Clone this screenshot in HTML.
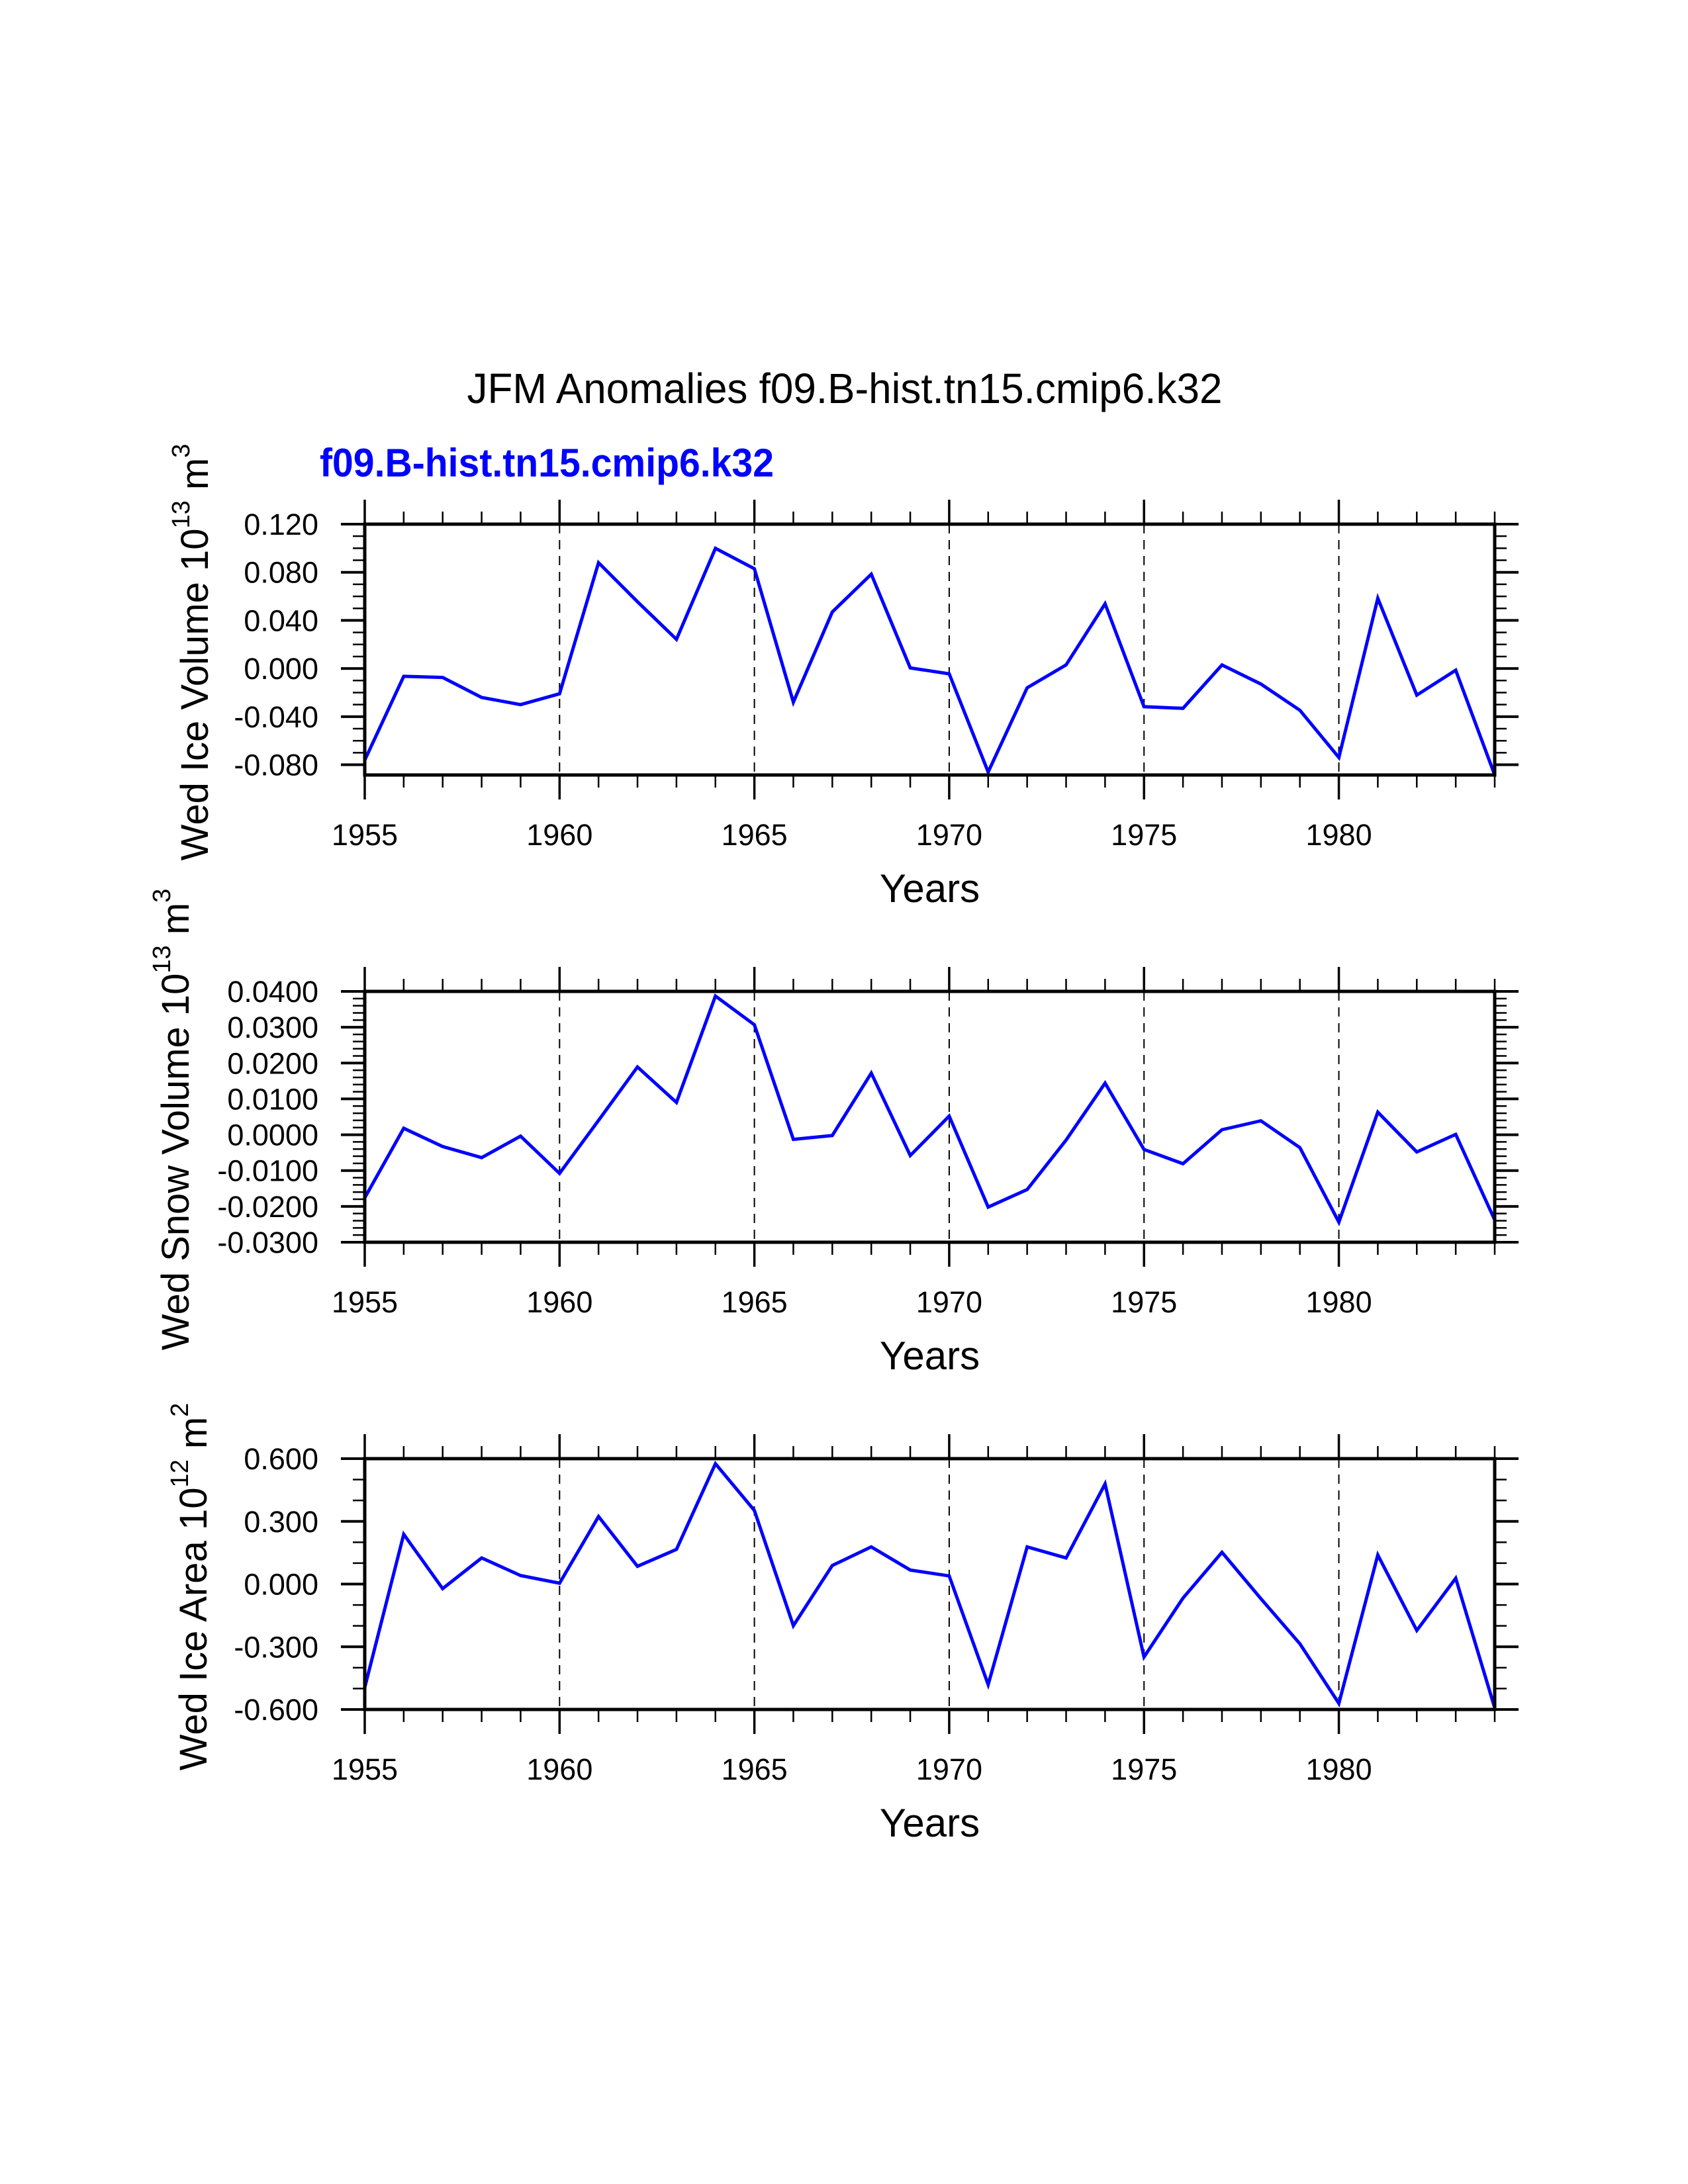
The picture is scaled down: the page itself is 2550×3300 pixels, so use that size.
<!DOCTYPE html>
<html><head><meta charset="utf-8"><style>
html,body{margin:0;padding:0;background:#fff;}
svg{display:block;font-family:"Liberation Sans",sans-serif;}
</style></head><body>
<svg id="chart" width="2550" height="3300" viewBox="0 0 2550 3300" xmlns="http://www.w3.org/2000/svg">
<rect x="0" y="0" width="2550" height="3300" fill="#fff"/>
<text x="1276" y="609" font-size="64" text-anchor="middle" textLength="1141" lengthAdjust="spacingAndGlyphs">JFM Anomalies f09.B-hist.tn15.cmip6.k32</text>
<text x="483" y="720" font-size="60" font-weight="bold" fill="#0000ff" textLength="686" lengthAdjust="spacingAndGlyphs">f09.B-hist.tn15.cmip6.k32</text>
</svg>
<script>
const years = [1955,1956,1957,1958,1959,1960,1961,1962,1963,1964,1965,1966,1967,1968,1969,1970,1971,1972,1973,1974,1975,1976,1977,1978,1979,1980,1981,1982,1983,1984];
const iceVolume = [-0.0762,-0.0065,-0.0074,-0.024,-0.030,-0.021,0.088,0.0555,0.0243,0.0999,0.083,-0.028,0.047,0.0784,0.0005,-0.0044,-0.086,-0.016,0.003,0.0538,-0.0317,-0.0331,0.003,-0.0129,-0.0347,-0.074,0.0584,-0.0221,-0.0014,-0.0885];
const snowVolume = [-0.0176,0.0018,-0.0033,-0.0064,-0.0004,-0.0108,0.004,0.0189,0.009,0.0387,0.0307,-0.0013,-0.0002,0.0172,-0.0058,0.0052,-0.0202,-0.0153,-0.0015,0.0144,-0.0041,-0.0081,0.0014,0.0039,-0.0036,-0.0244,0.0063,-0.0048,0.0001,-0.0238];
const iceArea = [-0.495,0.238,-0.022,0.125,0.041,0.004,0.323,0.085,0.166,0.576,0.352,-0.199,0.089,0.178,0.067,0.039,-0.481,0.178,0.125,0.479,-0.349,-0.067,0.152,-0.07,-0.286,-0.571,0.139,-0.222,0.028,-0.592];
const xTickLabels = ["1955","1960","1965","1970","1975","1980"];
const iceVolumeTicks = ["0.120","0.080","0.040","0.000","-0.040","-0.080"];
const snowVolumeTicks = ["0.0400","0.0300","0.0200","0.0100","0.0000","-0.0100","-0.0200","-0.0300"];
const iceAreaTicks = ["0.600","0.300","0.000","-0.300","-0.600"];

const NS = "http://www.w3.org/2000/svg";
const svg = document.getElementById('chart');
const X0 = 551, X1 = 2258, H = 379;
function mk(tag, attrs, parent){
  const e = document.createElementNS(NS, tag);
  for (const k in attrs) e.setAttribute(k, attrs[k]);
  (parent||svg).appendChild(e);
  return e;
}
function xScale(yr){ return X0 + (yr - 1955) / (1984 - 1955) * (X1 - X0); }

const panels = [
  {key:'ice-volume', top:792, ymin:-0.0885, ymax:0.12, data:iceVolume, ticks:iceVolumeTicks, minor:0.01, title:['Wed Ice Volume 10','13',' m','3'], tx:314},
  {key:'snow-volume', top:1498, ymin:-0.03, ymax:0.04, data:snowVolume, ticks:snowVolumeTicks, minor:0.002, title:['Wed Snow Volume 10','13',' m','3'], tx:285},
  {key:'ice-area', top:2204, ymin:-0.6, ymax:0.6, data:iceArea, ticks:iceAreaTicks, minor:0.1, title:['Wed Ice Area 10','12',' m','2'], tx:312}
];

panels.forEach(p => {
  const g = mk('g', {});
  
  
  const top = p.top, bot = p.top + H;
  const yS = v => bot - (v - p.ymin) / (p.ymax - p.ymin) * H;

  xTickLabels.forEach(l => {
    const yr = +l;
    if (yr === 1955) return;
    const ln = mk('line', {x1:xScale(yr), x2:xScale(yr), y1:top, y2:bot, stroke:'#000', 'stroke-width':2, 'stroke-dasharray':'14,10'}, g);
    
    
  });

  years.forEach(yr => {
    const major = (yr - 1955) % 5 === 0;
    const len = major ? 37 : 19;
    const x = xScale(yr);
    const t1 = mk('line', {x1:x, x2:x, y1:top, y2:top - len, stroke:'#000', 'stroke-width':major?3.5:2.5}, g);
    
    
    const t2 = mk('line', {x1:x, x2:x, y1:bot, y2:bot + len, stroke:'#000', 'stroke-width':major?3.5:2.5}, g);
    
    
  });

  const startMinor = Math.ceil(p.ymin / p.minor - 1e-6);
  for (let i = startMinor; i * p.minor <= p.ymax + 1e-9; i++) {
    const v = i * p.minor;
    const y = yS(v);
    const l1 = mk('line', {x1:X0, x2:X0 - 18, y1:y, y2:y, stroke:'#000', 'stroke-width':2.5}, g);
    
    
    const l2 = mk('line', {x1:X1, x2:X1 + 18, y1:y, y2:y, stroke:'#000', 'stroke-width':2.5}, g);
    
    
  }

  p.ticks.forEach(lbl => {
    const v = parseFloat(lbl);
    const y = yS(v);
    const l1 = mk('line', {x1:X0, x2:X0 - 36, y1:y, y2:y, stroke:'#000', 'stroke-width':4}, g);
    
    
    const l2 = mk('line', {x1:X1, x2:X1 + 36, y1:y, y2:y, stroke:'#000', 'stroke-width':4}, g);
    
    
    const t = mk('text', {x:481, y:y + 16, 'font-size':45, 'text-anchor':'end'}, g);
    t.textContent = lbl;
    
    
  });

  xTickLabels.forEach(l => {
    const t = mk('text', {x:xScale(+l), y:bot + 106, 'font-size':45, 'text-anchor':'middle'}, g);
    t.textContent = l;
    
    
  });

  const pts = p.data.map((v, i) => xScale(years[i]).toFixed(1) + ',' + yS(v).toFixed(1)).join(' ');
  const pl = mk('polyline', {points:pts, fill:'none', stroke:'#0000ff', 'stroke-width':5, 'stroke-linejoin':'miter'}, g);
  
  

  const fr = mk('rect', {x:X0, y:top, width:X1 - X0, height:H, fill:'none', stroke:'#000', 'stroke-width':5}, g);
  
  

  const xt = mk('text', {x:(X0 + X1) / 2, y:bot + 192, 'font-size':60, 'text-anchor':'middle'}, g);
  xt.textContent = 'Years';
  
  

  const cy = top + H / 2 + 4;
  const yt = mk('text', {x:0, y:0, 'font-size':58, 'text-anchor':'middle', transform:'translate(' + p.tx + ',' + cy + ') rotate(-90)'}, g);
  
  
  const s1 = mk('tspan', {}, yt); s1.textContent = p.title[0];
  const s2 = mk('tspan', {dy:-28, 'font-size':38}, yt); s2.textContent = p.title[1];
  const s3 = mk('tspan', {dy:28}, yt); s3.textContent = p.title[2];
  const s4 = mk('tspan', {dy:-28, 'font-size':38}, yt); s4.textContent = p.title[3];
});
</script>
</body></html>
